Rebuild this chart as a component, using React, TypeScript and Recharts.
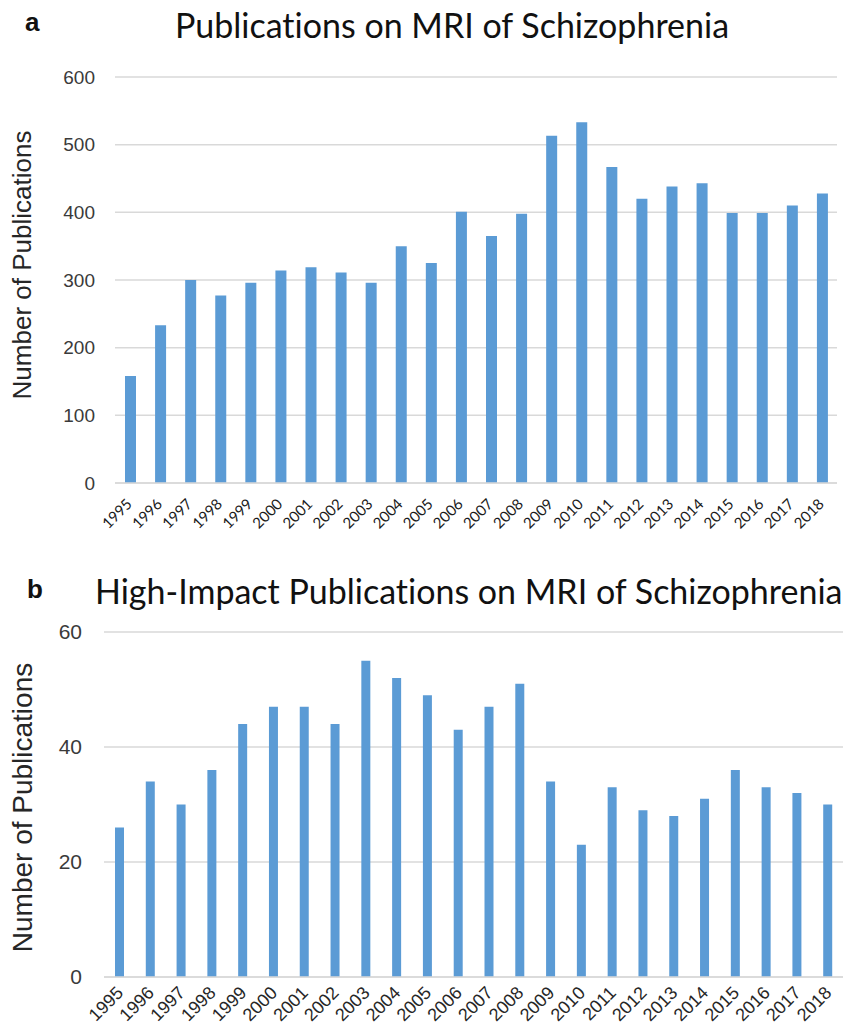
import React from 'react';
import { BarChart, Bar, XAxis, YAxis, CartesianGrid, Label } from 'recharts';

const years = [
    '1995', '1996', '1997', '1998', '1999', '2000', '2001', '2002', '2003', '2004', '2005', '2006',
    '2007', '2008', '2009', '2010', '2011', '2012', '2013', '2014', '2015', '2016', '2017', '2018',
];
const allPubs = [158, 233, 300, 277, 296, 314, 319, 311, 296, 350, 325, 401, 365, 398, 513, 533, 467, 420, 438, 443, 399, 399, 410, 428];
const highImpactPubs = [26, 34, 30, 36, 44, 47, 47, 44, 55, 52, 49, 43, 47, 51, 34, 23, 33, 29, 28, 31, 36, 33, 32, 30];
const topTicks = [0, 100, 200, 300, 400, 500, 600];
const bottomTicks = [0, 20, 40, 60];

const BLUE = '#5b9bd5';
const GRID = '#d9d9d9';
const yLabelText = 'Number of Publications';

const topData = years.map((y, i) => ({ year: y, count: allPubs[i] }));
const bottomData = years.map((y, i) => ({ year: y, count: highImpactPubs[i] }));

function TopTick({ x, y, payload }: any) {
    return (
        <text x={x + 3} y={y + 20} transform={`rotate(-45, ${x + 3}, ${y + 20})`} textAnchor="end" fontSize={15} fontFamily="Lato, sans-serif" fill="#1a1a1a">
            {payload.value}
        </text>
    );
}

function BottomTick({ x, y, payload }: any) {
    return (
        <text x={x + 5} y={y + 15} transform={`rotate(-45, ${x + 5}, ${y + 15})`} textAnchor="end" fontSize={18} fontFamily="'Liberation Sans', Arial, sans-serif" fill="#262626">
            {payload.value}
        </text>
    );
}

function yLabel(size: number, cx: number, shift: number) {
    return ({ viewBox }: any) => {
        const cy = viewBox.y + viewBox.height / 2 + shift;
        return (
            <text x={cx} y={cy} transform={`rotate(-90, ${cx}, ${cy})`} textAnchor="middle" dominantBaseline="central" fontSize={size} fontFamily="'Liberation Sans', Arial, sans-serif" fill="#262626">
                {yLabelText}
            </text>
        );
    };
}

const titleStyle: React.CSSProperties = {
    position: 'absolute',
    fontFamily: 'Lato, sans-serif',
    fontSize: 34,
    fontVariantLigatures: 'none',
    color: '#111',
    whiteSpace: 'nowrap',
    lineHeight: 1,
};
const letterStyle: React.CSSProperties = {
    position: 'absolute',
    fontFamily: "'Liberation Sans', Arial, sans-serif",
    fontWeight: 'bold',
    fontSize: 26,
    color: '#111',
    lineHeight: 1,
};

export default function App() {
    return (
        <div style={{ position: 'absolute', left: 0, top: 0, width: 859, height: 1030, background: '#fff', overflow: 'hidden' }}>
            {/* ── panel a ──── */}
            <div style={{ ...letterStyle, left: 25, top: 9 }}>a</div>
            <div style={{ ...titleStyle, left: 175, top: 8 }}>Publications on MRI of Schizophrenia</div>
            <div style={{ position: 'absolute', left: 0, top: 0 }}>
                <BarChart width={859} height={560} data={topData} margin={{ top: 77, right: 22, left: 0, bottom: 27 }}>
                    <CartesianGrid vertical={false} stroke={GRID} strokeWidth={1.5} />
                    <XAxis dataKey="year" interval={0} height={50} axisLine={{ stroke: GRID, strokeWidth: 1.5 }} tickLine={false} tickSize={0} tick={<TopTick />} />
                    <YAxis width={115} domain={[0, 600]} ticks={topTicks} axisLine={false} tickLine={false} tickMargin={14}
                        tick={{ fontSize: 19, fill: '#3a3a3a', fontFamily: "'Liberation Sans', Arial, sans-serif" }}>
                        <Label content={yLabel(26, 22, -15)} />
                    </YAxis>
                    <Bar dataKey="count" fill={BLUE} barSize={11} isAnimationActive={false} />
                </BarChart>
            </div>

            {/* ── panel b ──── */}
            <div style={{ ...letterStyle, left: 27, top: 576 }}>b</div>
            <div style={{ ...titleStyle, left: 95, top: 574 }}>High-Impact Publications on MRI of Schizophrenia</div>
            <div style={{ position: 'absolute', left: 0, top: 560 }}>
                <BarChart width={859} height={470} data={bottomData} margin={{ top: 72, right: 16, left: 0, bottom: 3 }}>
                    <CartesianGrid vertical={false} stroke={GRID} strokeWidth={1.5} />
                    <XAxis dataKey="year" interval={0} height={50} axisLine={{ stroke: GRID, strokeWidth: 1.5 }} tickLine={false} tickSize={0} tick={<BottomTick />} />
                    <YAxis width={104} domain={[0, 60]} ticks={bottomTicks} axisLine={false} tickLine={false} tickMargin={16}
                        tick={{ fontSize: 21, fill: '#3a3a3a', fontFamily: "'Liberation Sans', Arial, sans-serif" }}>
                        <Label content={yLabel(28, 22, 3)} />
                    </YAxis>
                    <Bar dataKey="count" fill={BLUE} barSize={9} isAnimationActive={false} />
                </BarChart>
            </div>
        </div>
    );
}
